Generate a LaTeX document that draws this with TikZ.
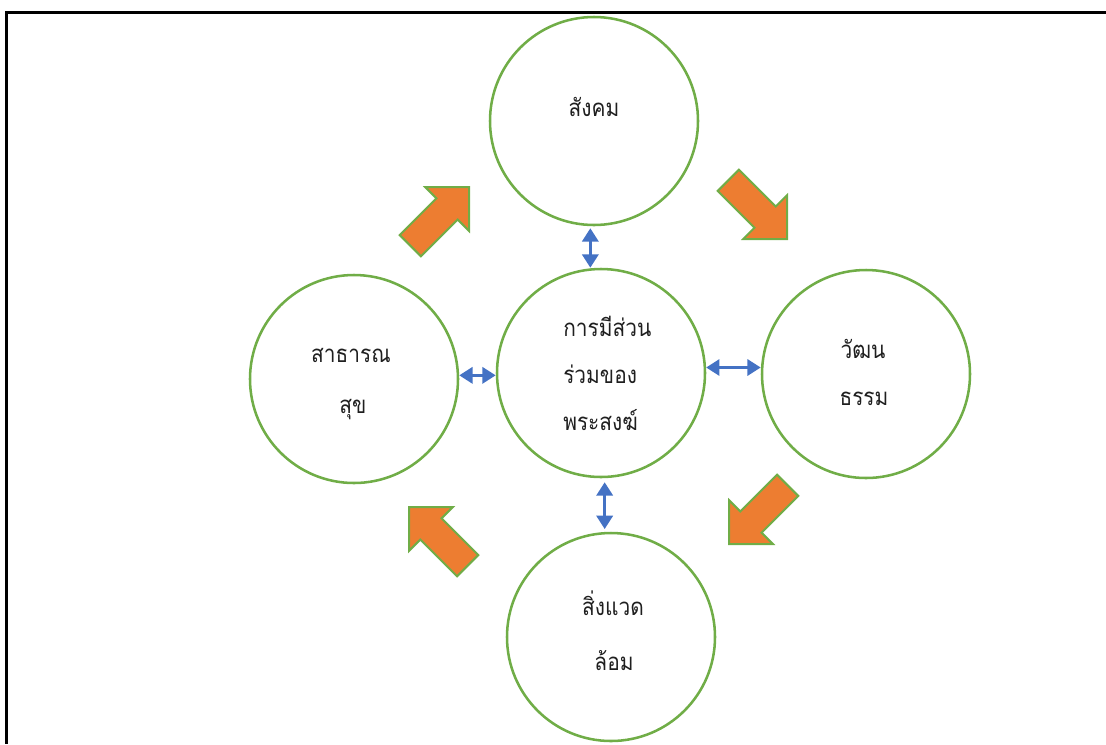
\documentclass[tikz,border=0pt]{standalone}
\usepackage{fontspec}
\newfontfamily\thaifont[Script=Thai,FakeStretch=0.87]{Loma}
\usetikzlibrary{arrows.meta,calc}
\definecolor{cgreen}{HTML}{70AD47}
\definecolor{corange}{HTML}{ED7D31}
\definecolor{cblue}{HTML}{4472C4}
\newcommand\blkarrow[3]{\draw[blk,shift={(#1,#2)},rotate=#3] (0,0) -- (-31,31) -- (-31,15) -- (-83,15) -- (-83,-15) -- (-31,-15) -- (-31,-31) -- cycle;}
\begin{document}
\begin{tikzpicture}[x=0.75pt,y=-0.75pt,
 circ/.style={circle,draw=cgreen,line width=1.9pt,minimum size=156pt,inner sep=0pt},
 txt/.style={font=\thaifont\fontsize{18}{21}\selectfont,inner sep=0pt,text=black!88,anchor=base},
 ltxt/.style={txt,anchor=base west},
 blk/.style={fill=corange,draw=cgreen,line width=1.5pt,line join=miter},
 link/.style={draw=cblue,line width=2.4pt,{Triangle[length=10pt,width=12pt]}-{Triangle[length=10pt,width=12pt]}}]
\useasboundingbox (0,0) rectangle (1106,744);
\draw[line width=1.9pt] (1106,12.5) -- (6.5,12.5) -- (6.5,744);
% circles
\node[circ] (top) at (594,121) {};
\node[circ] (ctr) at (601,373) {};
\node[circ] (rgt) at (866,374) {};
\node[circ] (lft) at (354,379) {};
\node[circ] (bot) at (611,637) {};
% texts
\node[txt] (t1) at (594,116) {สังคม};
\node[ltxt] (c1) at (563,336) {การมีส่วน};
\node[ltxt] (c2) at (563,383) {ร่วมของ};
\node[ltxt] (c3) at (563,430) {พระสงฆ์};
\node[txt] (l1) at (351,362) {สาธารณ};
\node[txt] (l2) at (353,413) {สุข};
\node[txt] (r1) at (863,358) {วัฒน};
\node[txt] (r2) at (864,405) {ธรรม};
\node[txt] (b1) at (613,615) {สิ่งแวด};
\node[txt] (b2) at (614,670) {ล้อม};
% blue links
\draw[link,shorten <=1.5pt] (top.268) -- (top.268 |- ctr.north);
\draw[link] (lft.2) -- (lft.2 -| ctr.west);
\draw[link] (ctr.3.3) -- (ctr.3.3 -| rgt.west);
\draw[link,shorten <=3pt,shorten >=2pt] (ctr.272) -- (ctr.272 |- bot.north);
% orange block arrows
\blkarrow{469}{187}{45}
\blkarrow{787}{239}{-45}
\blkarrow{729}{544}{-135}
\blkarrow{409}{507}{135}
\end{tikzpicture}
\end{document}
